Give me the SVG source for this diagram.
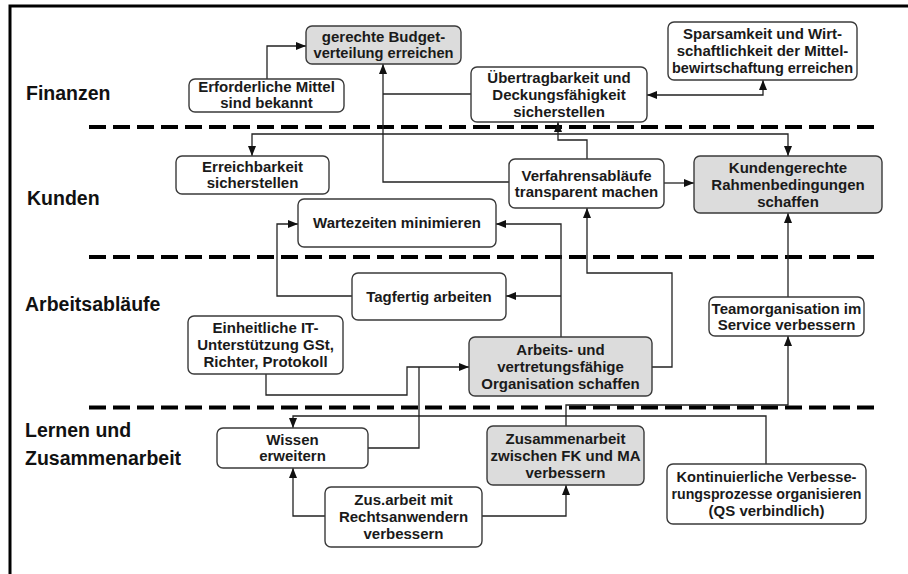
<svg xmlns="http://www.w3.org/2000/svg" width="908" height="574" viewBox="0 0 908 574">
<style>
.frame{stroke:#000;stroke-width:3;fill:none}
.dash{stroke:#000;stroke-width:4;stroke-dasharray:17 7;fill:none}
.box{fill:#fff;stroke:#3a3a3a;stroke-width:1.4}
.hl{fill:#dcdcdc}
.t{font-family:"Liberation Sans",Arial,sans-serif;font-weight:bold;font-size:15px;fill:#1a1a1a;text-anchor:middle}
.lab{font-family:"Liberation Sans",Arial,sans-serif;font-weight:bold;font-size:19.5px;fill:#111}
.c{fill:none;stroke:#222;stroke-width:1.3}
.a{marker-end:url(#ah)}
.b{marker-start:url(#ah);marker-end:url(#ah)}
</style>
<defs>
<marker id="ah" markerUnits="userSpaceOnUse" markerWidth="10" markerHeight="8" refX="10" refY="4" orient="auto-start-reverse">
<path d="M0,0 L10,4 L0,8 z" fill="#111"/>
</marker>
</defs>
<rect width="908" height="574" fill="#fff"/>
<g id="frame">
<path class="frame" d="M10,574 V6 H908"/>
</g>
<g id="lanes">
<path class="dash" d="M89,127 H878"/>
<path class="dash" d="M89,257 H878"/>
<path class="dash" d="M89,407.5 H878"/>
<text class="lab" x="26" y="100">Finanzen</text>
<text class="lab" x="27" y="205">Kunden</text>
<text class="lab" x="25" y="311">Arbeitsabläufe</text>
<text class="lab" x="25" y="437">Lernen und</text>
<text class="lab" x="25" y="465">Zusammenarbeit</text>
</g>
<g id="connectors">
<path class="c a" d="M267,79 V46 H306"/>
<path class="c a" d="M509,182 H383 V64"/>
<path class="c" d="M471,94 H383"/>
<path class="c b" d="M647,95 H763 V80"/>
<path class="c a" d="M587,159 V140 H558 V122"/>
<path class="c b" d="M252,156 V134 H788 V156"/>
<path class="c a" d="M664,183 H694"/>
<path class="c a" d="M352,296 H277 V224 H298"/>
<path class="c a" d="M561,337 V224 H496"/>
<path class="c a" d="M561,296 H506"/>
<path class="c a" d="M652,367 H672 V273 H587 V208"/>
<path class="c a" d="M788,297 V213"/>
<path class="c a" d="M566,426 V405 H788 V336"/>
<path class="c a" d="M766,464 V416 H293 V428"/>
<path class="c a" d="M266,374 V395 H407 V367 H469"/>
<path class="c" d="M368,448 H419 V367"/>
<path class="c a" d="M325,516 H293 V468"/>
<path class="c a" d="M482,516 H566 V485"/>
</g>
<g id="n1"><rect class="box hl" x="306" y="26" width="155" height="38" rx="6"/>
<text class="t" x="383.5" y="42">gerechte Budget-</text><text class="t" x="383.5" y="58" textLength="140" lengthAdjust="spacingAndGlyphs">verteilung erreichen</text></g>
<g id="n2"><rect class="box" x="189" y="79" width="155" height="33" rx="6"/>
<text class="t" x="266.5" y="92">Erforderliche Mittel</text><text class="t" x="266.5" y="108">sind bekannt</text></g>
<g id="n3"><rect class="box" x="471" y="67" width="176" height="55" rx="6"/>
<text class="t" x="559" y="82.5">Übertragbarkeit und</text><text class="t" x="559" y="99.5">Deckungsfähigkeit</text><text class="t" x="559" y="116.5">sicherstellen</text></g>
<g id="n4"><rect class="box" x="668" y="22" width="189" height="58" rx="6"/>
<text class="t" x="762.5" y="39">Sparsamkeit und Wirt-</text><text class="t" x="762.5" y="56">schaftlichkeit der Mittel-</text><text class="t" x="762.5" y="73" textLength="181" lengthAdjust="spacingAndGlyphs">bewirtschaftung erreichen</text></g>
<g id="n5"><rect class="box" x="176" y="156" width="153" height="38" rx="6"/>
<text class="t" x="252.5" y="172">Erreichbarkeit</text><text class="t" x="252.5" y="188">sicherstellen</text></g>
<g id="n6"><rect class="box" x="298" y="199" width="198" height="48" rx="6"/>
<text class="t" x="397" y="228">Wartezeiten minimieren</text></g>
<g id="n7"><rect class="box" x="509" y="159" width="155" height="49" rx="6"/>
<text class="t" x="586.5" y="180.5">Verfahrensabläufe</text><text class="t" x="586.5" y="196.5">transparent machen</text></g>
<g id="n8"><rect class="box hl" x="694" y="156" width="188" height="57" rx="6"/>
<text class="t" x="788" y="172.5">Kundengerechte</text><text class="t" x="788" y="189.5">Rahmenbedingungen</text><text class="t" x="788" y="206.5">schaffen</text></g>
<g id="n9"><rect class="box" x="352" y="273" width="154" height="47" rx="6"/>
<text class="t" x="429" y="301.5">Tagfertig arbeiten</text></g>
<g id="n10"><rect class="box" x="188" y="316" width="155" height="58" rx="6"/>
<text class="t" x="265.5" y="333">Einheitliche IT-</text><text class="t" x="265.5" y="350">Unterstützung GSt,</text><text class="t" x="265.5" y="367">Richter, Protokoll</text></g>
<g id="n11"><rect class="box hl" x="469" y="337" width="183" height="59" rx="6"/>
<text class="t" x="560.5" y="354.5">Arbeits- und</text><text class="t" x="560.5" y="371.5">vertretungsfähige</text><text class="t" x="560.5" y="388.5">Organisation schaffen</text></g>
<g id="n12"><rect class="box" x="709" y="297" width="155" height="39" rx="6"/>
<text class="t" x="786.5" y="313.5">Teamorganisation im</text><text class="t" x="786.5" y="329.5">Service verbessern</text></g>
<g id="n13"><rect class="box" x="217" y="428" width="151" height="40" rx="6"/>
<text class="t" x="292.5" y="445">Wissen</text><text class="t" x="292.5" y="461">erweitern</text></g>
<g id="n14"><rect class="box" x="325" y="487" width="157" height="60" rx="6"/>
<text class="t" x="403.5" y="505">Zus.arbeit mit</text><text class="t" x="403.5" y="522">Rechtsanwendern</text><text class="t" x="403.5" y="539">verbessern</text></g>
<g id="n15"><rect class="box hl" x="487" y="426" width="157" height="59" rx="6"/>
<text class="t" x="565.5" y="443.5">Zusammenarbeit</text><text class="t" x="565.5" y="460.5">zwischen FK und MA</text><text class="t" x="565.5" y="477.5">verbessern</text></g>
<g id="n16"><rect class="box" x="667" y="464" width="199" height="60" rx="6"/>
<text class="t" x="766.5" y="482" textLength="180" lengthAdjust="spacingAndGlyphs">Kontinuierliche Verbesse-</text><text class="t" x="766.5" y="499" textLength="190" lengthAdjust="spacingAndGlyphs">rungsprozesse organisieren</text><text class="t" x="766.5" y="516">(QS verbindlich)</text></g>
</svg>
